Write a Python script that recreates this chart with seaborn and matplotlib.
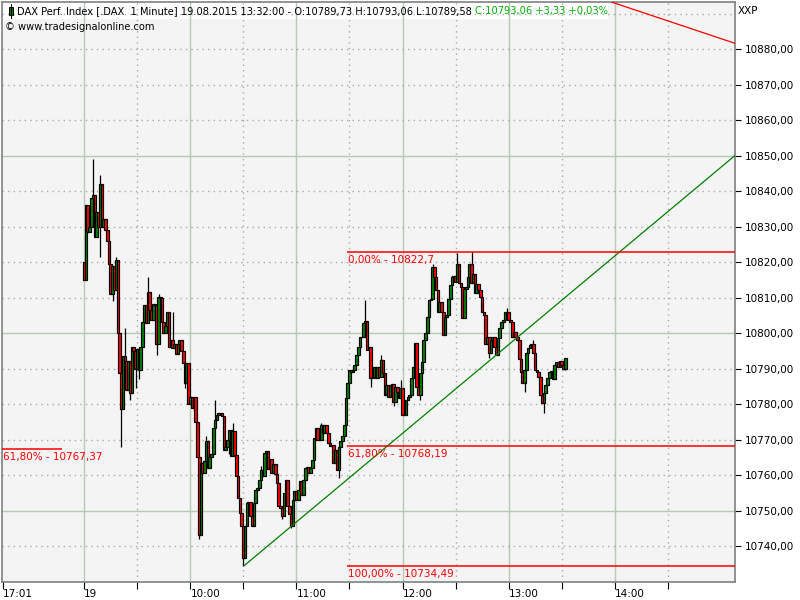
import numpy as np
import seaborn as sns
import matplotlib.pyplot as plt
from matplotlib.patches import Rectangle
from matplotlib.lines import Line2D

# DAX 1-minute bars, x = minutes since 09:00 (19.08.2015)
first_open = 10820.0
closes = [
    10815, 10836, 10828.5, 10830, 10838, 10839, 10827, 10834, 10830, 10842,
    10830, 10832, 10829, 10826, 10819.5, 10811, 10819, 10812, 10820.5, 10800,
    10788.7, 10778.5, 10793.4, 10792, 10784, 10792, 10783, 10796, 10795, 10789.8,
    10795.5, 10789.7, 10796, 10803.2, 10807.9, 10802.7, 10811.6, 10806.5, 10803.7, 10808.3,
    10808, 10797, 10810.2, 10810, 10803.2, 10800, 10802, 10806, 10796, 10798,
    10795.7, 10797, 10794, 10797, 10798, 10795, 10791.5, 10786, 10791.5, 10780,
    10782, 10779, 10782, 10775, 10765, 10743, 10763.4, 10760.5, 10764, 10769.5,
    10762, 10765, 10766, 10773.2, 10775.6, 10777, 10777.4, 10777.5, 10776.5, 10767.1,
    10768, 10770, 10772.8, 10765.3, 10772.3, 10765.7, 10759.6, 10753.6, 10749.3, 10745.6,
    10736.5, 10745.6, 10752, 10752.5, 10748.4, 10745.6, 10752, 10755.9, 10756.4, 10758.7,
    10761.5, 10759.6, 10766.2, 10766.7, 10761.6, 10764.5, 10760.6, 10763, 10760.2, 10757.8,
    10751.2, 10750.8, 10748.4, 10755, 10758.7, 10751.2, 10748.9, 10745.6, 10753, 10755.4,
    10753, 10755.9, 10758.2, 10754.5, 10758.7, 10762, 10762.3, 10760.6, 10762, 10764.3,
    10770.4, 10773.2, 10770, 10769.9, 10774.1, 10771.8, 10774.1, 10771.8, 10769, 10768.1,
    10768.5, 10763.4, 10767, 10761.5, 10768, 10769.5, 10771, 10774, 10781.6, 10785.8,
    10789.6, 10789, 10789.6, 10791, 10793.8, 10796.1, 10798.9, 10799, 10802.7, 10803.5,
    10795.2, 10796, 10787.2, 10787.5, 10790.5, 10787.2, 10790.5, 10787.7, 10792.4, 10788.6,
    10782.6, 10785.3, 10782.1, 10785.3, 10785.5, 10780.7, 10784.9, 10783.5, 10781.6, 10784.4,
    10777, 10776.9, 10781.1, 10782.1, 10782.6, 10787.2, 10790.5, 10797.1, 10784.9, 10782.6,
    10788.6, 10791.9, 10798, 10799.9, 10804.6, 10809.3, 10809.7, 10818.6, 10815.8, 10812,
    10806, 10808.8, 10806, 10799.4, 10804.6, 10805, 10809.7, 10813.5, 10815.8, 10816,
    10814.5, 10819.5, 10814, 10813, 10804.1, 10812.5, 10813, 10815.8, 10819.5, 10814,
    10816.5, 10811.2, 10813.9, 10812, 10810.2, 10806, 10805, 10797, 10799, 10794.3,
    10798, 10799, 10796.1, 10793.8, 10798.5, 10801.3, 10803.2, 10803.6, 10806, 10806,
    10803.6, 10803.2, 10798.9, 10800.3, 10799, 10798, 10792.8, 10789.1, 10785.8, 10789.6,
    10794.3, 10795.7, 10796.6, 10796.8, 10794.3, 10789.6, 10789.1, 10787.7, 10782.6, 10780.2,
    10783, 10785.4, 10787.2, 10789.1, 10789.3, 10787, 10791, 10791.8, 10790.5, 10792,
    10791, 10789.73, 10793.06,
]
# visible wicks (minute -> price)
high_wicks = {5: 10849, 9: 10844.5, 18: 10821.5, 23: 10801.3, 36: 10815.8, 42: 10811.1,
              50: 10806, 69: 10770.9, 74: 10781.2, 84: 10774.6, 100: 10762.5, 134: 10774.6,
              159: 10809.2, 168: 10793.8, 179: 10786.8, 197: 10819.5, 211: 10822.4,
              219: 10822.7, 239: 10807, 254: 10798, 272: 10793.06}
low_wicks = {9: 10821.5, 16: 10809, 21: 10768, 26: 10781, 29: 10784.5, 31: 10787,
             41: 10793.8, 57: 10784.5, 65: 10742, 82: 10766, 90: 10734.49, 112: 10747.5,
             117: 10745, 144: 10759.2, 162: 10784.9, 175: 10779.3, 190: 10781,
             229: 10792.9, 249: 10783.5, 260: 10777.4, 272: 10789.58}

# fibonacci retracement drawn from 11:28
fib_levels = [10822.7, 10768.19, 10734.49]
fib_labels = ['0,00% - 10822,7', '61,80% - 10768,19', '100,00% - 10734,49']
fib_start = 148.6
left_fib_level = 10767.37
left_fib_label = '61,80% - 10767,37'
left_fib_span = [-46.5, -12.6]

# trend lines
trend_up_x = [90.5, 368.0]
trend_up_y = [10734.49, 10850.0]
trend_dn_x = [298.3, 368.0]
trend_dn_y = [10893.2, 10881.6]

xtick_pos = [-46.2, 0, 60, 120, 180, 240, 300]
xtick_labels = ['17:01', '19', '10:00', '11:00', '12:00', '13:00', '14:00']
xminor_pos = [30, 90, 150, 210, 270, 330]
ytick_vals = list(range(10740, 10890, 10))

header_black = 'DAX Perf. Index [.DAX  1 Minute] 19.08.2015 13:32:00 - O:10789,73 H:10793,06 L:10789,58 '
header_green = 'C:10793,06 +3,33 +0,03%'

GREEN = '#008000'
RED = '#ff0000'
FS = 7.5
HFS = 7.1

sns.set_theme(style='white')
plt.rcParams['font.family'] = ['DejaVu Sans']

W, H = 800, 600
fig = plt.figure(figsize=(8, 6), dpi=100)
fig.patch.set_facecolor('white')


def fpx(x, y):
    # pixel position (from top-left) -> figure fraction
    return x / W, 1 - y / H


ax = fig.add_axes([2 / W, 18 / H, 733 / W, 580 / H])
ax.set_facecolor('#f4f4f4')
ax.set_xlim(-46.5, 368.0)
ax.set_ylim(10729.86, 10893.24)

# grid
for x in xtick_pos[1:]:
    ax.axvline(x, color='#b5c9b5', lw=1, zorder=1)
for x in xminor_pos:
    ax.axvline(x, color='#a8a8a8', lw=1, ls=(0, (1, 3)), zorder=1)
for y in ytick_vals + [10890]:
    if y % 50 == 0:
        ax.axhline(y, color='#b5c9b5', lw=1, zorder=1)
    else:
        ax.axhline(y, color='#a8a8a8', lw=1, ls=(0, (1, 3)), zorder=1)

# candles
c = np.array(closes, dtype=float)
o = np.r_[first_open, c[:-1]]
t = np.arange(len(c))
hi = np.maximum(o, c)
lo = np.minimum(o, c)
for k, v in high_wicks.items():
    hi[k] = v
for k, v in low_wicks.items():
    lo[k] = v
cols = np.where(c >= o, GREEN, RED)
ax.vlines(t, lo, hi, color='black', lw=0.9, zorder=2)
ax.bar(t, c - o, bottom=o, width=1.5, color=cols, edgecolor='black',
       linewidth=0.85, zorder=3)

# trend lines
sns.lineplot(x=trend_up_x, y=trend_up_y, ax=ax, color=GREEN, lw=0.9, zorder=4)
sns.lineplot(x=trend_dn_x, y=trend_dn_y, ax=ax, color=RED, lw=0.9, zorder=4)

# fibonacci levels
ax.hlines(fib_levels, fib_start, 368.0, color=RED, lw=1.1, zorder=4)
for lvl, lab in zip(fib_levels, fib_labels):
    ax.annotate(lab, (fib_start, lvl), xytext=(1, -3), textcoords='offset pixels',
                ha='left', va='top', color=RED, fontsize=FS, zorder=5)
ax.hlines(left_fib_level, left_fib_span[0], left_fib_span[1], color=RED, lw=1.1, zorder=4)
ax.annotate(left_fib_label, (left_fib_span[0], left_fib_level), xytext=(1, -3),
            textcoords='offset pixels', ha='left', va='top', color=RED, fontsize=FS, zorder=5)

# axes frame and ticks
for sp in ax.spines.values():
    sp.set_visible(True)
    sp.set_color('#808080')
    sp.set_linewidth(1.2)

ax.yaxis.tick_right()
ax.set_yticks(ytick_vals, [f'{v:.2f}'.replace('.', ',') for v in ytick_vals])
ax.tick_params(axis='y', which='both', right=True, left=False, direction='out',
               length=4, width=0.8, color='black', pad=3, labelsize=FS, labelcolor='black')
ax.set_xticks(xtick_pos, xtick_labels)
ax.set_xticks(xminor_pos, minor=True)
ax.tick_params(axis='x', which='both', bottom=True, direction='out', length=5, width=0.8,
               color='black', pad=0, labelsize=FS, labelcolor='black')
for lbl in ax.get_xticklabels():
    lbl.set_ha('left')
ax.set_xlabel('')
ax.set_ylabel('')

# header
x0, y0 = fpx(2, 19)
ax.add_patch(Rectangle((x0, y0), 606 / W, 17 / H, transform=fig.transFigure,
                       facecolor='white', edgecolor='none', zorder=0.5))
fig.add_artist(Line2D([11 / W, 11 / W], [1 - 4 / H, 1 - 18 / H], color='black', lw=0.8))
fig.add_artist(Rectangle(fpx(9, 15), 4 / W, 8 / H, facecolor=GREEN, edgecolor='black', lw=0.7))
tx, ty = fpx(17, 11)
t1 = fig.text(tx, ty, header_black, fontsize=HFS, color='black', va='center', ha='left')
fig.canvas.draw()
bb = t1.get_window_extent(renderer=fig.canvas.get_renderer())
fig.text(bb.x1 / W, ty, header_green, fontsize=HFS, color='#00b000', va='center', ha='left')
fig.text(*fpx(5, 27), '\u00a9 www.tradesignalonline.com', fontsize=HFS, color='black',
         va='center', ha='left')
fig.text(*fpx(738, 11), 'XXP', fontsize=FS, color='black', va='center', ha='left')

fig.savefig('out.png', dpi=100)
